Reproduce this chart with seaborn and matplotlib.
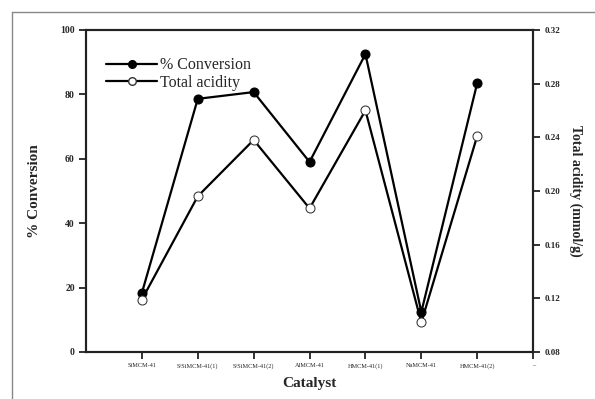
import seaborn as sns
import pandas as pd
import numpy as np
import matplotlib.pyplot as plt
from matplotlib.lines import Line2D

# Data
catalysts = ['SiMCM-41', 'S/SiMCM-41(1)', 'S/SiMCM-41(2)', 'AlMCM-41',
             'HMCM-41(1)', 'NaMCM-41', 'HMCM-41(2)']
conversion = [18.3, 78.6, 80.7, 59.0, 92.5, 12.4, 83.5]
acidity = [0.119, 0.196, 0.238, 0.187, 0.260, 0.102, 0.241]
tick_labels = catalysts + ['–']

df = pd.DataFrame({'pos': np.arange(1, len(catalysts) + 1),
                   'Catalyst': catalysts,
                   'Conversion': conversion,
                   'Acidity': acidity})

sns.set_style('ticks')
plt.rcParams['font.family'] = ['Liberation Serif', 'DejaVu Serif']

fig = plt.figure(figsize=(5.95, 3.99), dpi=100)
ax = fig.add_axes([0.1445, 0.118, 0.7515, 0.807])
ax2 = ax.twinx()

sns.lineplot(x='pos', y='Conversion', data=df, ax=ax, color='black',
             linewidth=1.6, marker='o', markersize=6.5, markerfacecolor='black',
             markeredgecolor='black', zorder=3)
sns.lineplot(x='pos', y='Acidity', data=df, ax=ax2, color='black',
             linewidth=1.6, marker='o', markersize=6.5, markerfacecolor='white',
             markeredgecolor='#333333', zorder=3)

ax.set_xlim(0, 8)
ax.set_ylim(0, 100)
ax2.set_ylim(0.08, 0.32)
ax.set_xticks(np.arange(1, 9))
ax.set_xticklabels(tick_labels, fontsize=4.5)
ax.set_yticks(np.arange(0, 101, 20))
ax.set_yticklabels([str(v) for v in range(0, 101, 20)], fontsize=7, fontweight='bold')
ax2.set_yticks(np.arange(0.08, 0.33, 0.04))
ax2.set_yticklabels(['%.2f' % v for v in np.arange(0.08, 0.33, 0.04)],
                    fontsize=6.5, fontweight='bold')

for a in (ax, ax2):
    a.tick_params(direction='out', length=5, width=1.3, color='#222222', pad=3)
    for s in a.spines.values():
        s.set_linewidth(1.5)
        s.set_color('#222222')

ax.set_xlabel('Catalyst', fontsize=11, fontweight='bold', labelpad=6)
ax.set_ylabel('% Conversion', fontsize=11, fontweight='bold', labelpad=14)
ax2.set_ylabel('Total acidity (mmol/g)', fontsize=10, fontweight='bold',
               rotation=270, labelpad=16)

handles = [Line2D([], [], color='black', lw=1.6, marker='o', markersize=5.5,
                  markerfacecolor='black'),
           Line2D([], [], color='black', lw=1.6, marker='o', markersize=5.5,
                  markerfacecolor='white', markeredgecolor='#333333')]
ax.legend(handles, ['% Conversion', 'Total acidity'], loc='upper left',
          bbox_to_anchor=(0.02, 0.95), frameon=False, fontsize=11.5,
          handlelength=3.2, handletextpad=0.2, labelspacing=0.1,
          borderaxespad=0.3)

# outer frame of the figure (left and top)
fig.add_artist(Line2D([0.02, 0.02], [0.0, 0.97], transform=fig.transFigure,
                      color='#888888', lw=1))
fig.add_artist(Line2D([0.02, 1.0], [0.97, 0.97], transform=fig.transFigure,
                      color='#888888', lw=1))

plt.savefig('out.png', dpi=100)
